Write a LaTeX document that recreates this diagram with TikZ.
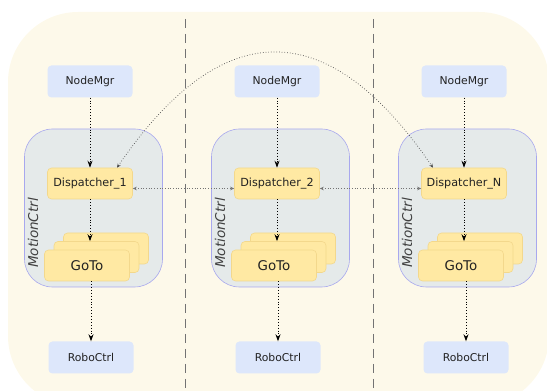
\documentclass[tikz,border=0pt]{standalone}
\usepackage{fontspec}
\setmainfont{DejaVu Sans}
\usetikzlibrary{arrows.meta,positioning}

\definecolor{bgcream}{HTML}{FDF9EA}
\definecolor{ctrlgray}{HTML}{E5EAEA}
\definecolor{ctrledge}{HTML}{A8A8EE}
\definecolor{mgrblue}{HTML}{DDE7FB}
\definecolor{dispyellow}{HTML}{FFE9A3}
\definecolor{dispedge}{HTML}{F3D88C}
\definecolor{txt}{HTML}{222222}

\tikzset{
	mgr/.style={fill=mgrblue, rounded corners=4pt, minimum width=85pt, minimum height=32pt,
		text=txt, font=\fontsize{10.8}{12}\selectfont},
	disp/.style={fill=dispyellow, draw=dispedge, line width=0.6pt, rounded corners=4pt,
		minimum width=85pt, minimum height=31pt, text=txt, font=\fontsize{11.2}{13}\selectfont},
	goto/.style={disp, font=\fontsize{13.4}{15}\selectfont},
	ctrl/.style={fill=ctrlgray, draw=ctrledge, line width=0.6pt, rounded corners=28pt,
		minimum width=138pt, minimum height=158pt},
	ctrllabel/.style={rotate=90, text=black!75, font=\fontsize{13.5}{15}\selectfont\itshape},
	flow/.style={dotted, line width=0.9pt, -{Stealth[length=7pt,width=5pt]}},
	peer/.style={black!55, dotted, line width=0.7pt,
		{Stealth[length=4pt,width=3.5pt]}-{Stealth[length=4pt,width=3.5pt]}},
	sep/.style={black!55, line width=0.7pt, dash pattern=on 9pt off 6pt},
}

\begin{document}
\begin{tikzpicture}[x=1pt,y=1pt]
	\useasboundingbox (0,0) rectangle (547,391);
	\fill[bgcream, rounded corners=70pt] (8,-15) rectangle (549,379);
	\draw[sep] (185.7,372) -- (185.7,0);
	\draw[sep] (373,372) -- (373,0);

	% containers
	\node[ctrl] (ctrl1) at (93.5,183) {};
	\node[ctrl] (ctrl2) at (280.5,183) {};
	\node[ctrl] (ctrlN) at (467.5,183) {};
	\node[ctrllabel] at ([xshift=9pt,yshift=-25pt]ctrl1.west) {MotionCtrl};
	\node[ctrllabel] at ([xshift=9pt,yshift=-25pt]ctrl2.west) {MotionCtrl};
	\node[ctrllabel] at ([xshift=9pt,yshift=-25pt]ctrlN.west) {MotionCtrl};

	\node[mgr] (mgr1) at (90,309.5) {NodeMgr};
	\node[mgr] (mgr2) at (277,309.5) {NodeMgr};
	\node[mgr] (mgrN) at (464,309.5) {NodeMgr};

	\node[disp] (disp1) at (90,207.5) {Dispatcher\_1};
	\node[disp] (disp2) at (277,207.5) {Dispatcher\_2};
	\node[disp] (dispN) at (464,207.5) {Dispatcher\_N};

	% stacked GoTo boxes, back to front
	\node[disp] at (106,142.5) {};
	\node[disp] (mid1) at (96.5,134) {};
	\node[goto] (goto1) at (87,125.5) {GoTo};
	\node[disp] at (293,142.5) {};
	\node[disp] (mid2) at (283.5,134) {};
	\node[goto] (goto2) at (274,125.5) {GoTo};
	\node[disp] at (480,142.5) {};
	\node[disp] (midN) at (470.5,134) {};
	\node[goto] (gotoN) at (461,125.5) {GoTo};

	\node[mgr] (robo1) at (91,33.5) {RoboCtrl};
	\node[mgr] (robo2) at (278,33.5) {RoboCtrl};
	\node[mgr] (roboN) at (466,33.5) {RoboCtrl};

	\draw[flow] (mgr1) -- (disp1);
	\draw[flow] (mgr2) -- (disp2);
	\draw[flow] (mgrN) -- (dispN);
	\draw[flow] (disp1) -- (disp1.south |- mid1.north);
	\draw[flow] (disp2) -- (disp2.south |- mid2.north);
	\draw[flow] (dispN) -- (dispN.south |- midN.north);
	\draw[flow] (goto1.south -| robo1) -- (robo1);
	\draw[flow] (goto2.south -| robo2) -- (robo2);
	\draw[flow] (gotoN.south -| roboN) -- (roboN);

	\draw[peer] ([yshift=-5pt]disp1.east) -- ([yshift=-5pt]disp2.west);
	\draw[peer] ([yshift=-5pt]disp2.east) -- ([yshift=-5pt]dispN.west);
	\draw[peer, black!70] ([xshift=27pt]disp1.north) .. controls (222,377) and (328,377) .. ([xshift=-31pt]dispN.north);
\end{tikzpicture}
\end{document}
